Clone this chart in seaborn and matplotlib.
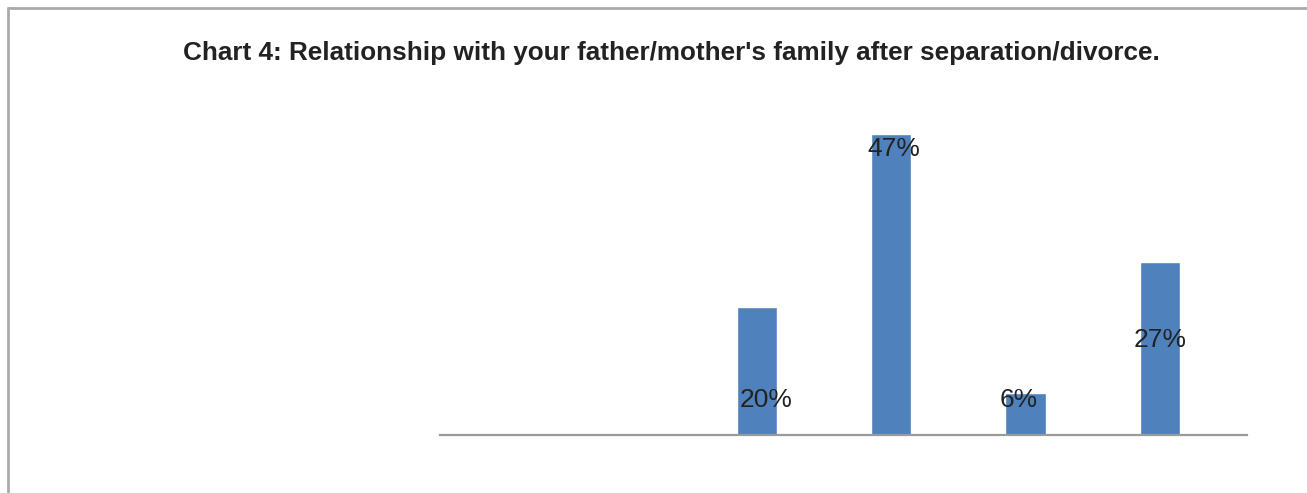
import matplotlib
matplotlib.use("Agg")
import matplotlib.pyplot as plt
import seaborn as sns
import pandas as pd
from matplotlib.lines import Line2D

categories = ["Category 1", "Category 2", "Category 3", "Category 4"]
values = [20, 47, 6.6, 27]
labels = ["20%", "47%", "6%", "27%"]

title = "Chart 4: Relationship with your father/mother's family after separation/divorce."

sns.set_theme(style="white")
plt.rcParams['font.family'] = ['Liberation Sans', 'DejaVu Sans']

df = pd.DataFrame({"category": categories, "value": values})

fig = plt.figure(figsize=(13.07, 4.93), dpi=100)
W, H = 1307, 493
ax = fig.add_axes([440 / W, 1 - 435 / H, (1247 - 440) / W, 320 / H])

sns.barplot(data=df, x="category", y="value", color="#4F81BD", saturation=1,
            width=0.3, ax=ax)

ax.set_ylim(0, 50)
ax.set_xlim(-2.36, 3.65)
ax.set_xticks([])
ax.set_yticks([])
ax.set_xlabel("")
ax.set_ylabel("")
for s in ["top", "left", "right"]:
    ax.spines[s].set_visible(False)
ax.spines["bottom"].set_color("#9a9a9a")
ax.spines["bottom"].set_linewidth(1.6)

# label positions (inside bars, as in the reference)
label_y = [5.5, 44.7, 5.5, 14.9]
label_dx = [0.07, 0.02, -0.05, 0.0]
for i, (lab, ly, dx) in enumerate(zip(labels, label_y, label_dx)):
    ax.text(i + dx, ly, lab, ha="center", va="center", fontsize=19, color="#222222")

fig.text(671.5 / W, 1 - 53 / H, title, ha="center", va="center",
         fontsize=18.8, fontweight="bold", color="#222222")

# outer frame (top and left edges)
fig.add_artist(Line2D([8 / W, 1.0], [1 - 8 / H, 1 - 8 / H], transform=fig.transFigure,
                      color="#aaaaaa", lw=2))
fig.add_artist(Line2D([8 / W, 8 / W], [0, 1 - 8 / H], transform=fig.transFigure,
                      color="#aaaaaa", lw=2))

fig.savefig("out.png", dpi=100, facecolor="white")
